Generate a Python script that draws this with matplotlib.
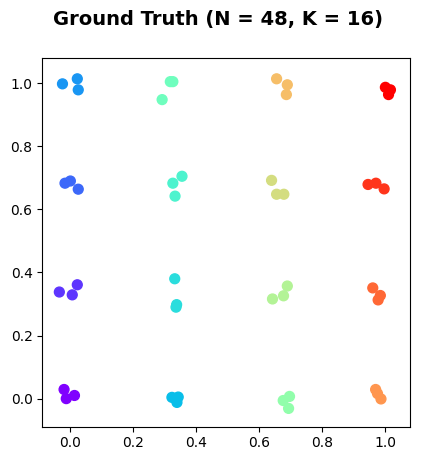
import matplotlib
matplotlib.use("Agg")
import matplotlib.pyplot as plt
import numpy as np

# cluster labels 0..15 (3 points each)
labels = [0, 0, 0, 1, 1, 1, 2, 2, 2, 3, 3, 3,
          4, 4, 4, 5, 5, 5, 6, 6, 6, 7, 7, 7,
          8, 8, 8, 9, 9, 9, 10, 10, 10, 11, 11, 11,
          12, 12, 12, 13, 13, 13, 14, 14, 14, 15, 15, 15]

x_vals = [-0.019, -0.012, 0.014,     # (0,0)
          -0.034, 0.007, 0.023,      # (0,1/3)
          -0.016, 0.001, 0.026,      # (0,2/3)
          -0.024, 0.023, 0.026,      # (0,1)
          0.323, 0.343, 0.339,       # (1/3,0)
          0.332, 0.338, 0.336,       # (1/3,1/3)
          0.355, 0.326, 0.333,       # (1/3,2/3)
          0.318, 0.326, 0.292,       # (1/3,1)
          0.676, 0.696, 0.693,       # (2/3,0)
          0.642, 0.677, 0.689,       # (2/3,1/3)
          0.639, 0.655, 0.678,       # (2/3,2/3)
          0.655, 0.689, 0.686,       # (2/3,1)
          0.969, 0.975, 0.986,       # (1,0)
          0.960, 0.984, 0.977,       # (1,1/3)
          0.945, 0.970, 0.996,       # (1,2/3)
          1.000, 1.016, 1.010]       # (1,1)

y_vals = [0.029, 0.000, 0.010,
          0.338, 0.329, 0.361,
          0.683, 0.690, 0.664,
          0.998, 1.014, 0.979,
          0.004, 0.005, -0.012,
          0.380, 0.298, 0.290,
          0.705, 0.683, 0.642,
          1.005, 1.005, 0.948,
          -0.006, 0.007, -0.031,
          0.316, 0.326, 0.357,
          0.692, 0.648, 0.648,
          1.014, 0.995, 0.964,
          0.029, 0.016, -0.001,
          0.351, 0.327, 0.313,
          0.679, 0.683, 0.665,
          0.987, 0.979, 0.964]

title = "Ground Truth (N = 48, K = 16)"

fig = plt.figure(figsize=(4.23, 4.61), dpi=100)
ax = fig.add_axes([42.3 / 423, (461 - 426.7) / 461, 368 / 423, 368.4 / 461])
ax.scatter(x_vals, y_vals, c=labels, cmap="rainbow", vmin=0, vmax=15, s=50)
ax.set_xlim(-0.088, 1.079)
ax.set_ylim(-0.089, 1.079)
ax.set_xticks([0.0, 0.2, 0.4, 0.6, 0.8, 1.0])
ax.set_yticks([0.0, 0.2, 0.4, 0.6, 0.8, 1.0])
fig.text(217.5 / 423, 1 - 19 / 461, title, ha="center", va="center",
         fontsize=14, fontweight="bold")
fig.savefig("out.png", dpi=100)
